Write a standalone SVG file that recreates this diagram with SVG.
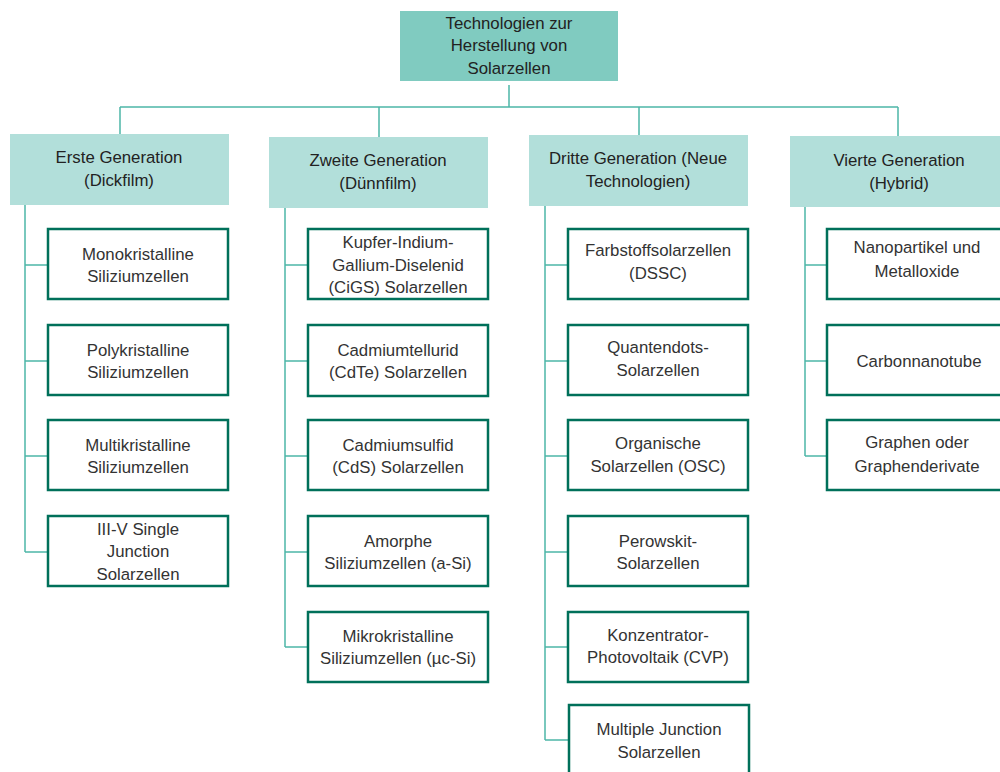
<svg xmlns="http://www.w3.org/2000/svg" width="1000" height="772" viewBox="0 0 1000 772">
<style>
text{font-family:"Liberation Sans",Arial,sans-serif;font-size:16.8px;fill:#222;text-anchor:middle}
.c text{fill:#333}
.root{fill:#80CBC0}
.gen{fill:#B2DFDA}
.child{fill:#fff;stroke:#00705A;stroke-width:2.5}
.conn{fill:none;stroke:#4DB6A8;stroke-width:1.5}
</style>
<rect width="1000" height="772" fill="#fff"/>
<g id="connectors" class="conn">
<path d="M509 85V107M120 107H898M120 107V134M379 107V137M639 107V135M898 107V136"/>
<path d="M25 205V552M25 265H48M25 361H48M25 456H48M25 552H48"/>
<path d="M285 208V647M285 265H308M285 361H308M285 456H308M285 552H308M285 647H308"/>
<path d="M545 206V740M545 265H568M545 361H568M545 456H568M545 552H568M545 647H568M545 740H568"/>
<path d="M805 207V456M805 265H827M805 361H827M805 456H827"/>
</g>
<g id="root"><rect class="root" x="400" y="11" width="218" height="70"/>
<text x="509" y="29">Technologien zur</text><text x="509" y="51">Herstellung von</text><text x="509" y="74">Solarzellen</text></g>
<g id="gen1"><rect class="gen" x="10" y="134" width="219" height="71"/>
<text x="119" y="163">Erste Generation</text><text x="119" y="186">(Dickfilm)</text></g>
<g id="gen2"><rect class="gen" x="269" y="137" width="219" height="71"/>
<text x="378" y="166">Zweite Generation</text><text x="378" y="189">(Dünnfilm)</text></g>
<g id="gen3"><rect class="gen" x="529" y="135" width="219" height="71"/>
<text x="638" y="164">Dritte Generation (Neue</text><text x="638" y="187">Technologien)</text></g>
<g id="gen4"><rect class="gen" x="790" y="136" width="219" height="71"/>
<text x="899" y="166">Vierte Generation</text><text x="899" y="189">(Hybrid)</text></g>

<g class="c">
<g id="c1a"><rect class="child" x="48" y="229" width="180" height="70"/><text x="138" y="260">Monokristalline</text><text x="138" y="282">Siliziumzellen</text></g>
<g id="c1b"><rect class="child" x="48" y="325" width="180" height="70"/><text x="138" y="356">Polykristalline</text><text x="138" y="378">Siliziumzellen</text></g>
<g id="c1c"><rect class="child" x="48" y="420" width="180" height="70"/><text x="138" y="451">Multikristalline</text><text x="138" y="473">Siliziumzellen</text></g>
<g id="c1d"><rect class="child" x="48" y="516" width="180" height="70"/><text x="138" y="535">III-V Single</text><text x="138" y="557">Junction</text><text x="138" y="580">Solarzellen</text></g>

<g id="c2a"><rect class="child" x="308" y="229" width="180" height="70"/><text x="398" y="248">Kupfer-Indium-</text><text x="398" y="271">Gallium-Diselenid</text><text x="398" y="293">(CiGS) Solarzellen</text></g>
<g id="c2b"><rect class="child" x="308" y="325" width="180" height="71"/><text x="398" y="356">Cadmiumtellurid</text><text x="398" y="378">(CdTe) Solarzellen</text></g>
<g id="c2c"><rect class="child" x="308" y="420" width="180" height="70"/><text x="398" y="451">Cadmiumsulfid</text><text x="398" y="473">(CdS) Solarzellen</text></g>
<g id="c2d"><rect class="child" x="308" y="516" width="180" height="70"/><text x="398" y="547">Amorphe</text><text x="398" y="569">Siliziumzellen (a-Si)</text></g>
<g id="c2e"><rect class="child" x="308" y="612" width="180" height="70"/><text x="398" y="642">Mikrokristalline</text><text x="398" y="664">Siliziumzellen (µc-Si)</text></g>

<g id="c3a"><rect class="child" x="568" y="229" width="180" height="70"/><text x="658" y="256">Farbstoffsolarzellen</text><text x="658" y="279">(DSSC)</text></g>
<g id="c3b"><rect class="child" x="568" y="325" width="180" height="70"/><text x="658" y="353">Quantendots-</text><text x="658" y="376">Solarzellen</text></g>
<g id="c3c"><rect class="child" x="568" y="420" width="180" height="70"/><text x="658" y="449">Organische</text><text x="658" y="472">Solarzellen (OSC)</text></g>
<g id="c3d"><rect class="child" x="568" y="516" width="180" height="70"/><text x="658" y="547">Perowskit-</text><text x="658" y="569">Solarzellen</text></g>
<g id="c3e"><rect class="child" x="568" y="612" width="180" height="70"/><text x="658" y="641">Konzentrator-</text><text x="658" y="663">Photovoltaik (CVP)</text></g>
<g id="c3f"><rect class="child" x="569" y="705" width="180" height="72"/><text x="659" y="735">Multiple Junction</text><text x="659" y="758">Solarzellen</text></g>

<g id="c4a"><rect class="child" x="827" y="229" width="180" height="70"/><text x="917" y="253">Nanopartikel und</text><text x="917" y="277">Metalloxide</text></g>
<g id="c4b"><rect class="child" x="827" y="325" width="180" height="70"/><text x="919" y="367">Carbonnanotube</text></g>
<g id="c4c"><rect class="child" x="827" y="420" width="180" height="70"/><text x="917" y="448">Graphen oder</text><text x="917" y="472">Graphenderivate</text></g>
</g>
</svg>
